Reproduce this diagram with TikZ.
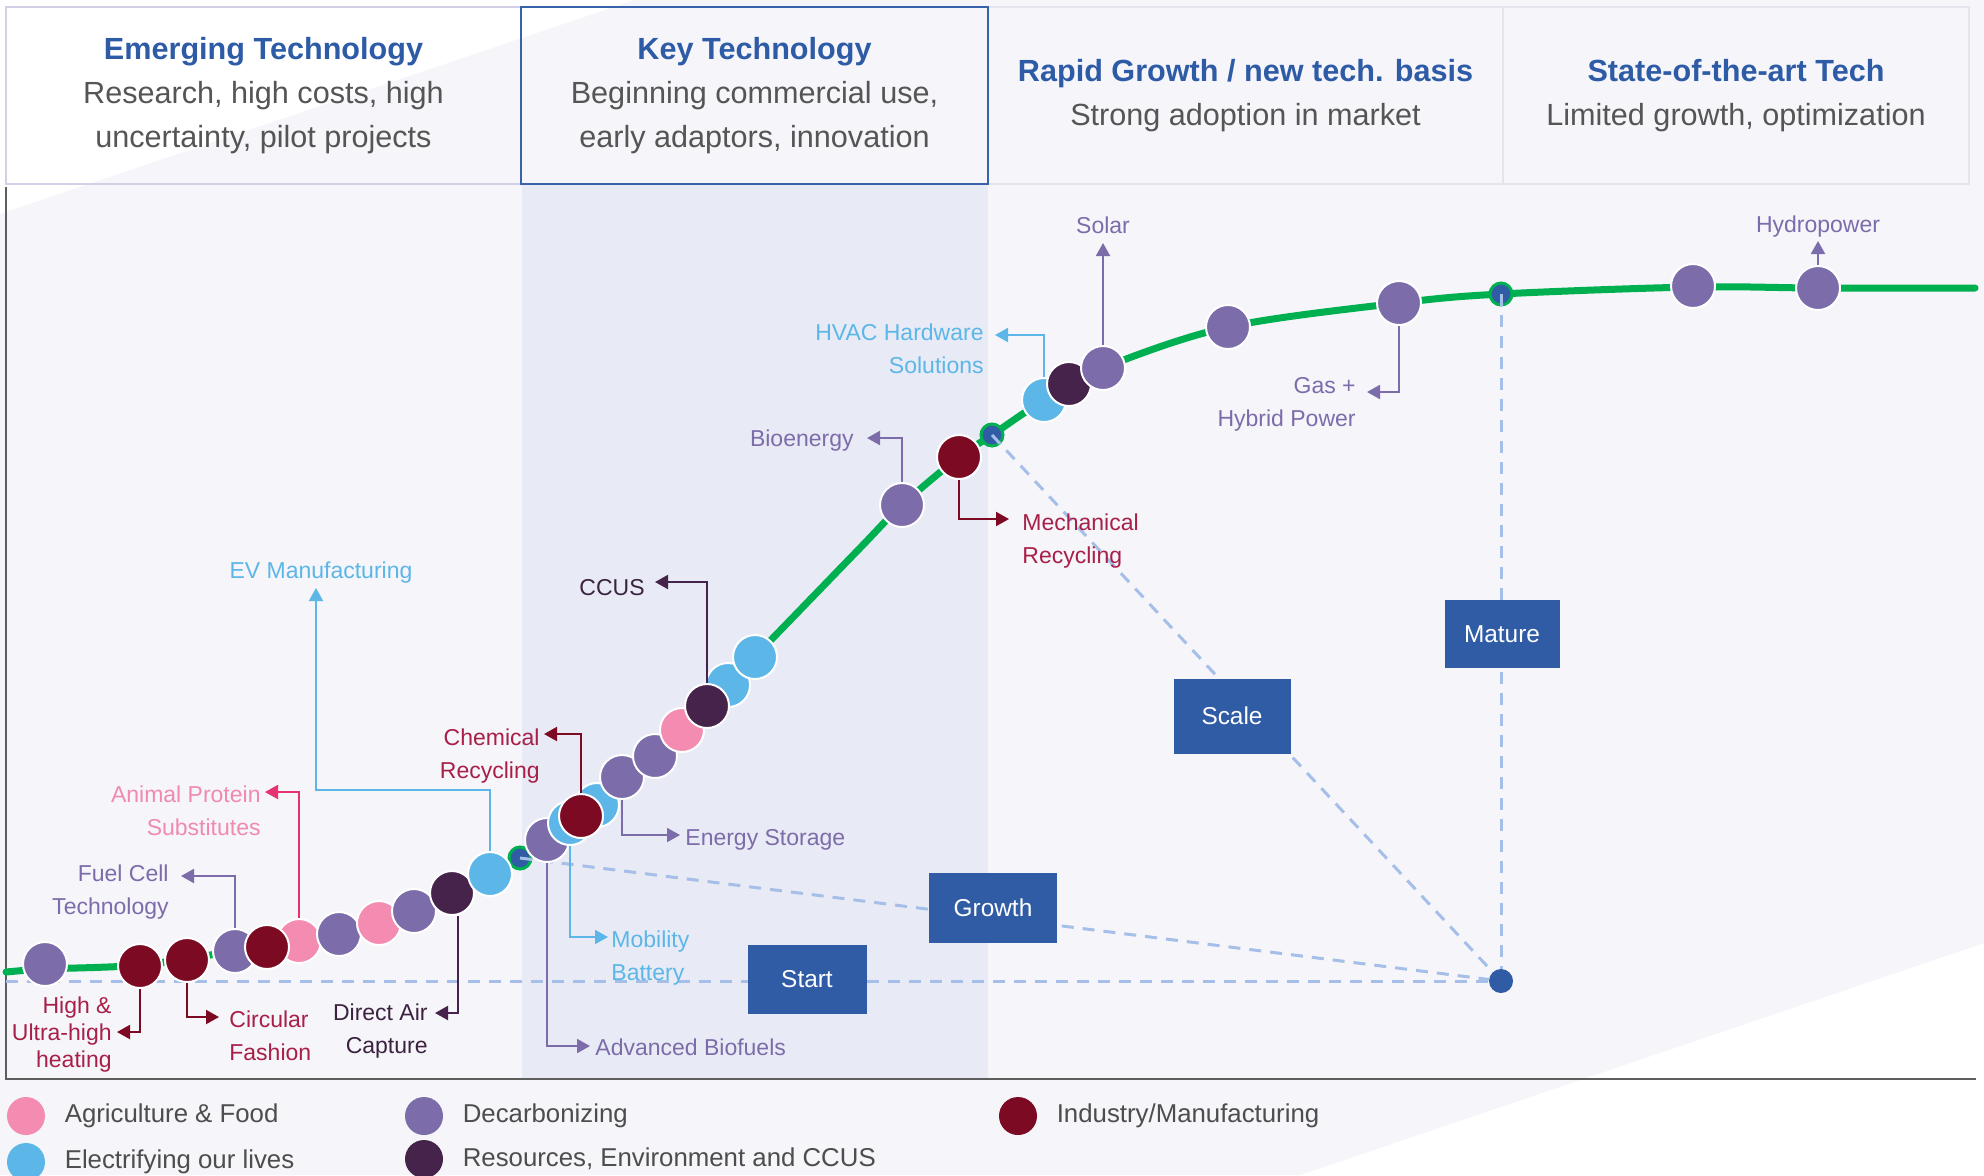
\documentclass[tikz,border=0pt]{standalone}
\usepackage{fontspec}
\setmainfont{Liberation Sans}
\usetikzlibrary{arrows.meta,positioning}

\definecolor{agri}{HTML}{F48BB0}
\definecolor{agriline}{HTML}{E6336F}
\definecolor{agritext}{HTML}{F08AAF}
\definecolor{elec}{HTML}{5CB6E7}
\definecolor{decarb}{HTML}{7D6CAA}
\definecolor{resource}{HTML}{45234A}
\definecolor{resourcetext}{HTML}{3B2340}
\definecolor{industry}{HTML}{7D0A23}
\definecolor{industrytext}{HTML}{A81F48}
\definecolor{curvegreen}{HTML}{00B050}
\definecolor{stageblue}{HTML}{305CA5}
\definecolor{dashblue}{HTML}{A5BFE8}
\definecolor{bandlilac}{HTML}{F5F5FA}
\definecolor{keyshade}{HTML}{E8EBF5}
\definecolor{titleblue}{HTML}{2E5BA6}
\definecolor{subgray}{HTML}{555555}
\definecolor{leggray}{HTML}{4D4D4D}
\definecolor{axisgray}{HTML}{5E5E5E}
\definecolor{hlilac}{HTML}{D3CFE6}
\definecolor{hblue}{HTML}{3862A9}
\definecolor{hgray}{HTML}{E4E4EE}

\newcommand{\headfont}{\fontsize{15.3}{22}\selectfont}
\newcommand{\lblfont}{\fontsize{11.5}{16.5}\selectfont}
\newcommand{\stagefont}{\fontsize{12.2}{14}\selectfont}
\newcommand{\legfont}{\fontsize{12.9}{15}\selectfont}
\newcommand{\headtitle}[1]{{\bfseries\color{titleblue}#1}}

\begin{document}
\begin{tikzpicture}[
  x=0.5pt, y=-0.5pt,
  >={Triangle[length=6.5pt,width=7pt]},
  every node/.style={inner sep=0pt},
  headbox/.style={draw, line width=1pt, outer sep=0pt, minimum height=88.5pt, align=center,
                  text=subgray, font=\headfont},
  stagebox/.style={fill=stageblue, text=white, font=\stagefont},
  bubble/.style={circle, draw=white, line width=1pt, minimum size=22pt},
  stagedot/.style={circle, fill=stageblue, draw=curvegreen, line width=1.5pt, minimum size=11pt},
  conn/.style={->, line width=1pt},
  guide/.style={dashblue, line width=1.5pt, dash pattern=on 6pt off 4.5pt},
  lbl/.style={font=\lblfont},
  legdot/.style={circle, minimum size=19pt},
  legtext/.style={font=\legfont, text=leggray}
]
\useasboundingbox (0,0) rectangle (1984,1175);
\fill[white] (0,0) rectangle (1984,1175);
\fill[bandlilac] (0,214) -- (635,0) -- (1984,0) -- (1984,943) -- (1300,1175) -- (0,1175) -- cycle;
\fill[keyshade] (522,185) rectangle (988,1079);
\draw[axisgray, line width=1.2pt] (6,187) -- (6,1079) -- (1976,1079);

% phases
\node[headbox, draw=hlilac, minimum width=257.5pt] (hEmerg) at (263.5,95.5)
  {\headtitle{Emerging Technology}\\Research, high costs, high\\uncertainty, pilot projects};
\node[headbox, draw=hgray, minimum width=257.5pt, right=233.5pt of hEmerg] (hRapid)
  {\headtitle{Rapid Growth / new tech. basis}\\Strong adoption in market};
\node[headbox, draw=hgray, minimum width=233pt, right=0pt of hRapid] (hState)
  {\headtitle{State-of-the-art Tech}\\Limited growth, optimization};
\node[headbox, draw=hblue, minimum width=233.5pt, right=0pt of hEmerg] (hKey)
  {\headtitle{Key Technology}\\Beginning commercial use,\\early adaptors, innovation};

% s-curve
\draw[curvegreen, line width=3.5pt, line cap=round] plot[smooth, tension=0.55] coordinates {
  (6,972) (45,969) (140,965) (235,951) (300,940) (380,922) (452,893) (520,858)
  (581,816) (655,756) (707,706) (770,641) (860,548) (902,505) (959,457) (992,435)
  (1044,400) (1103,368) (1228,327) (1399,303) (1501,294) (1693,287) (1818,288) (1975,288)};

\node[stagedot] (sd1) at (520,858) {};
\node[stagedot] (sd2) at (992,435) {};
\node[stagedot] (sd3) at (1501,294) {};
\node[circle, fill=stageblue, minimum size=12pt] (conv) at (1501,981) {};
\coordinate (gOrigin) at (6,981);

\draw[guide] (gOrigin) -- (conv);
\draw[guide] (sd1.center) -- (conv);
\draw[guide] (sd2.center) -- (conv);
\draw[guide] (sd3.center) -- (conv);

\node[stagebox, minimum width=59.5pt, minimum height=34.5pt] (sStart)  at (807,979)  {Start};
\node[stagebox, minimum width=64pt,   minimum height=35pt]   (sGrowth) at (993,908)  {Growth};
\node[stagebox, minimum width=58.5pt, minimum height=37.5pt] (sScale)  at (1232,716) {Scale};
\node[stagebox, minimum width=57.5pt, minimum height=34pt]   (sMature) at (1502,634) {Mature};

% technologies
\node[bubble, fill=decarb]   (p1)     at (45,964)   {};
\node[bubble, fill=industry] (bHeat)  at (140,966)  {};
\node[bubble, fill=industry] (bCirc)  at (187,960)  {};
\node[bubble, fill=decarb]   (bFuel)  at (235,951)  {};
\node[bubble, fill=agri]     (bProt)  at (299,941)  {};
\node[bubble, fill=industry] (p2)     at (267,947)  {};
\node[bubble, fill=decarb]   (p3)     at (339,934)  {};
\node[bubble, fill=agri]     (p4)     at (379,923)  {};
\node[bubble, fill=decarb]   (p5)     at (414,911)  {};
\node[bubble, fill=resource] (bDac)   at (452,893)  {};
\node[bubble, fill=elec]     (bEv)    at (490,874)  {};
\node[bubble, fill=decarb]   (bBiof)  at (547,840)  {};
\node[bubble, fill=elec]     (p6)     at (597,805)  {};
\node[bubble, fill=elec]     (bMob)   at (570,823)  {};
\node[bubble, fill=industry] (bChem)  at (581,816)  {};
\node[bubble, fill=decarb]   (bStor)  at (622,777)  {};
\node[bubble, fill=decarb]   (p7)     at (655,756)  {};
\node[bubble, fill=agri]     (p8)     at (682,730)  {};
\node[bubble, fill=elec]     (p9)     at (728,685)  {};
\node[bubble, fill=resource] (bCcus)  at (707,706)  {};
\node[bubble, fill=elec]     (p10)    at (755,657)  {};
\node[bubble, fill=decarb]   (bBioe)  at (902,505)  {};
\node[bubble, fill=industry] (bMech)  at (959,457)  {};
\node[bubble, fill=elec]     (bHvac)  at (1044,400) {};
\node[bubble, fill=resource] (p11)    at (1069,384) {};
\node[bubble, fill=decarb]   (bSolar) at (1103,368) {};
\node[bubble, fill=decarb]   (p12)    at (1228,327) {};
\node[bubble, fill=decarb]   (bGas)   at (1399,303) {};
\node[bubble, fill=decarb]   (p13)    at (1693,286) {};
\node[bubble, fill=decarb]   (bHydro) at (1818,288) {};

\node[lbl, text=elec] (lEv) at (321,573) {EV Manufacturing};
\node[lbl, text=agritext, align=right, anchor=east] (lProt) at (261,811) {Animal Protein\\Substitutes};
\node[lbl, text=decarb, align=right, anchor=east] (lFuel) at (169,892) {Fuel Cell\\Technology};
\node[lbl, text=industrytext, align=right, anchor=east, font=\fontsize{11.5}{13.5}\selectfont] (lHeat) at (112,1035) {High \&\\Ultra-high\\heating};
\node[lbl, text=industrytext, align=left, anchor=west] (lCirc) at (229,1036) {Circular\\Fashion};
\node[lbl, text=resourcetext, align=right, anchor=east] (lDac) at (428,1031) {Direct Air\\Capture};
\node[lbl, text=industrytext, align=right, anchor=east] (lChem) at (540,756) {Chemical\\Recycling};
\node[lbl, text=decarb, anchor=west] (lStor) at (685,840) {Energy Storage};
\node[lbl, text=elec, align=left, anchor=west] (lMob) at (611,958) {Mobility\\Battery};
\node[lbl, text=decarb, anchor=west] (lBiof) at (595,1047) {Advanced Biofuels};
\node[lbl, text=resourcetext, anchor=east] (lCcus) at (645,588) {CCUS};
\node[lbl, text=decarb, anchor=east] (lBioe) at (854,441) {Bioenergy};
\node[lbl, text=industrytext, align=left, anchor=west] (lMech) at (1022,541) {Mechanical\\Recycling};
\node[lbl, text=elec, align=right, anchor=east] (lHvac) at (984,349) {HVAC Hardware\\Solutions};
\node[lbl, text=decarb] (lSolar) at (1103,225) {Solar};
\node[lbl, text=decarb, align=right, anchor=east] (lGas) at (1356,404) {Gas +\\Hybrid Power};
\node[lbl, text=decarb] (lHydro) at (1818,227) {Hydropower};

\coordinate (kEv)    at (316,790);
\coordinate (tEv)    at (316,588);
\coordinate (tProt)  at (265,792);
\coordinate (tFuel)  at (181,876);
\coordinate (tHeat)  at (117,1032);
\coordinate (tCirc)  at (219,1017);
\coordinate (tDac)   at (435,1013);
\coordinate (tChem)  at (544,734);
\coordinate (tStor)  at (680,835);
\coordinate (tMob)   at (608,937);
\coordinate (tBiof)  at (590,1046);
\coordinate (tCcus)  at (655,582);
\coordinate (tBioe)  at (867,438);
\coordinate (tMech)  at (1009,519);
\coordinate (tHvac)  at (995,335);
\coordinate (tSolar) at (1103,243);
\coordinate (tGas)   at (1367,392);
\coordinate (tHydro) at (1818,241);

\draw[conn, elec]     (bEv.north) |- (kEv) -- (tEv);
\draw[conn, agriline] (bProt.north) |- (tProt);
\draw[conn, decarb]   (bFuel.north) |- (tFuel);
\draw[conn, industry] (bHeat.south) |- (tHeat);
\draw[conn, industry] (bCirc.south) |- (tCirc);
\draw[conn, resource] ([xshift=3pt]bDac.south) |- (tDac);
\draw[conn, industry] (bChem.north) |- (tChem);
\draw[conn, decarb]   (bStor.south) |- (tStor);
\draw[conn, elec]     (bMob.south) |- (tMob);
\draw[conn, decarb]   (bBiof.south) |- (tBiof);
\draw[conn, resource] (bCcus.north) |- (tCcus);
\draw[conn, decarb]   (bBioe.north) |- (tBioe);
\draw[conn, industry] (bMech.south) |- (tMech);
\draw[conn, elec]     (bHvac.north) |- (tHvac);
\draw[conn, decarb]   (bSolar.north) -- (tSolar);
\draw[conn, decarb]   (bGas.south) |- (tGas);
\draw[conn, decarb]   (bHydro.north) -- (tHydro);

% legend
\node[legdot, fill=agri]     (kAgri)   at (26,1116)   {};
\node[legdot, fill=elec]     (kElec)   at (26,1162)   {};
\node[legdot, fill=decarb]   (kDecarb) at (424,1116)  {};
\node[legdot, fill=resource] (kRes)    at (424,1159)  {};
\node[legdot, fill=industry] (kInd)    at (1018,1116) {};
\node[legtext, right=9.5pt of kAgri]   (tkAgri)   {Agriculture \& Food};
\node[legtext, right=9.5pt of kElec]   (tkElec)   {Electrifying our lives};
\node[legtext, right=9.5pt of kDecarb] (tkDecarb) {Decarbonizing};
\node[legtext, right=9.5pt of kRes]    (tkRes)    {Resources, Environment and CCUS};
\node[legtext, right=9.5pt of kInd]    (tkInd)    {Industry/Manufacturing};
\end{tikzpicture}
\end{document}
